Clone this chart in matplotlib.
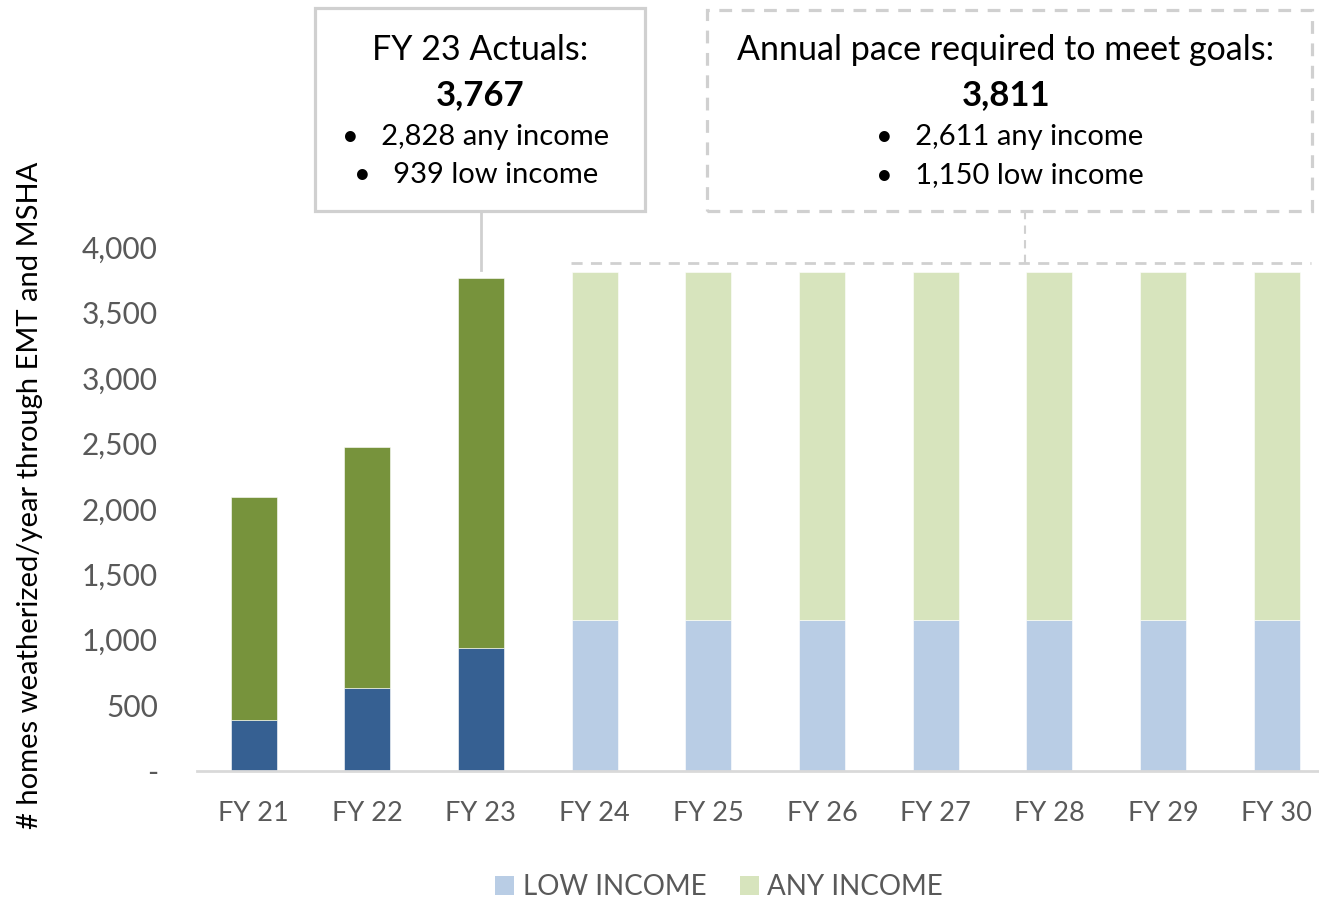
import matplotlib
matplotlib.use("Agg")
import matplotlib.pyplot as plt
from matplotlib.patches import Rectangle, Patch
from matplotlib.ticker import FuncFormatter, MultipleLocator
from matplotlib.lines import Line2D

# ---- data ----
years = ["FY 21", "FY 22", "FY 23", "FY 24", "FY 25", "FY 26", "FY 27", "FY 28", "FY 29", "FY 30"]
low_income = [385, 630, 939, 1150, 1150, 1150, 1150, 1150, 1150, 1150]
any_income = [1705, 1840, 2828, 2661, 2661, 2661, 2661, 2661, 2661, 2661]
is_actual = [True, True, True, False, False, False, False, False, False, False]

box1_lines = ["FY 23 Actuals:", "3,767", "•   2,828 any income", "•   939 low income"]
box2_lines = ["Annual pace required to meet goals:", "3,811", "•   2,611 any income", "•   1,150 low income"]

ylabel = "# homes weatherized/year through EMT and MSHA"

# ---- style ----
FONT = "Lato"
plt.rcParams['font.family'] = [FONT, 'DejaVu Sans']
dark_blue, dark_green = "#366092", "#77933C"
light_blue, light_green = "#B9CDE5", "#D7E4BD"
gray_txt = "#595959"
box_gray = "#D0D0D0"

W, H = 1319, 899
fig = plt.figure(figsize=(W / 100, H / 100), dpi=100)
ax = fig.add_axes([196.7 / W, 1 - 770.5 / H, 1136.9 / W, 523.3 / H])

x = list(range(len(years)))
low_cols = [dark_blue if a else light_blue for a in is_actual]
any_cols = [dark_green if a else light_green for a in is_actual]
bw = 0.405
ax.bar(x, low_income, width=bw, color=low_cols, edgecolor="white", linewidth=0.4, zorder=2)
ax.bar(x, any_income, width=bw, bottom=low_income, color=any_cols, edgecolor="white", linewidth=0.4, zorder=2)

ax.set_xlim(-0.5, len(years) - 0.5)
ax.set_ylim(0, 4000)
ax.yaxis.set_major_locator(MultipleLocator(500))
ax.yaxis.set_major_formatter(FuncFormatter(lambda v, p: "-" if v == 0 else f"{int(v):,}"))
ax.set_xticks(x)
ax.set_xticklabels(years)
ax.tick_params(axis="both", length=0, labelcolor=gray_txt)
ax.tick_params(axis="x", pad=22, labelsize=19.5)
ax.tick_params(axis="y", pad=28, labelsize=21.5)
for s in ["top", "right", "left"]:
    ax.spines[s].set_visible(False)
ax.spines["bottom"].set_color("#D9D9D9")
ax.spines["bottom"].set_linewidth(2)

fig.text(30 / W, 1 - 495 / H, ylabel, rotation=90, ha="center", va="center", fontsize=21, color="black")

# ---- annotation boxes ----
def px(xp, yp):
    return xp / W, 1 - yp / H

# box 1 (solid)
b1 = Rectangle(px(315, 211), 330 / W, 203 / H, transform=fig.transFigure, fill=False,
               edgecolor=box_gray, linewidth=2.3)
fig.add_artist(b1)
# box 2 (dashed)
b2 = Rectangle(px(707, 211), 605 / W, 201 / H, transform=fig.transFigure, fill=False,
               edgecolor=box_gray, linewidth=2.3, linestyle=(0, (4, 3)))
fig.add_artist(b2)

line_y = [50, 95, 137, 175]
sizes = [24.5, 25, 21, 21]
for i, (t, yy) in enumerate(zip(box1_lines, line_y)):
    fig.text(*px(480 if i < 2 else 476, yy), t, ha="center", va="center", fontsize=sizes[i],
             fontweight="bold" if i == 1 else "normal", color="black")
for i, (t, yy) in enumerate(zip(box2_lines, line_y)):
    fig.text(*px(1006 if i < 2 else 1010, yy), t, ha="center", va="center", fontsize=sizes[i],
             fontweight="bold" if i == 1 else "normal", color="black")

# connector from box 1 to FY23 bar
total23 = low_income[2] + any_income[2]
bx, by = ax.transData.transform((2, total23 + 60))
bfx, bfy = fig.transFigure.inverted().transform((bx, by))
fig.add_artist(Line2D([bfx, bfx], [bfy, px(0, 211)[1]], transform=fig.transFigure,
                      color=box_gray, linewidth=2))

# dashed pace line above projected bars
pace_total = low_income[3] + any_income[3]
ax.plot([3 - 0.21, 9.3], [pace_total + 70, pace_total + 70], color=box_gray, linewidth=2,
        linestyle=(0, (4, 3)), clip_on=False, zorder=1)
_, ly = ax.transData.transform((0, pace_total + 70))
lfy = fig.transFigure.inverted().transform((0, ly))[1]
fig.add_artist(Line2D([1025 / W, 1025 / W], [lfy, px(0, 211)[1]], transform=fig.transFigure,
                      color=box_gray, linewidth=1.5, linestyle=(0, (4, 3))))

# legend
handles = [Patch(facecolor=light_blue, edgecolor="none", label="LOW INCOME"),
           Patch(facecolor=light_green, edgecolor="none", label="ANY INCOME")]
leg = fig.legend(handles=handles, loc="center", bbox_to_anchor=(px(719, 887)), ncol=2,
                 frameon=False, fontsize=20, handlelength=0.7, handleheight=0.7,
                 handletextpad=0.3, columnspacing=1.2, labelcolor=gray_txt)

fig.savefig("out.png", dpi=100)
